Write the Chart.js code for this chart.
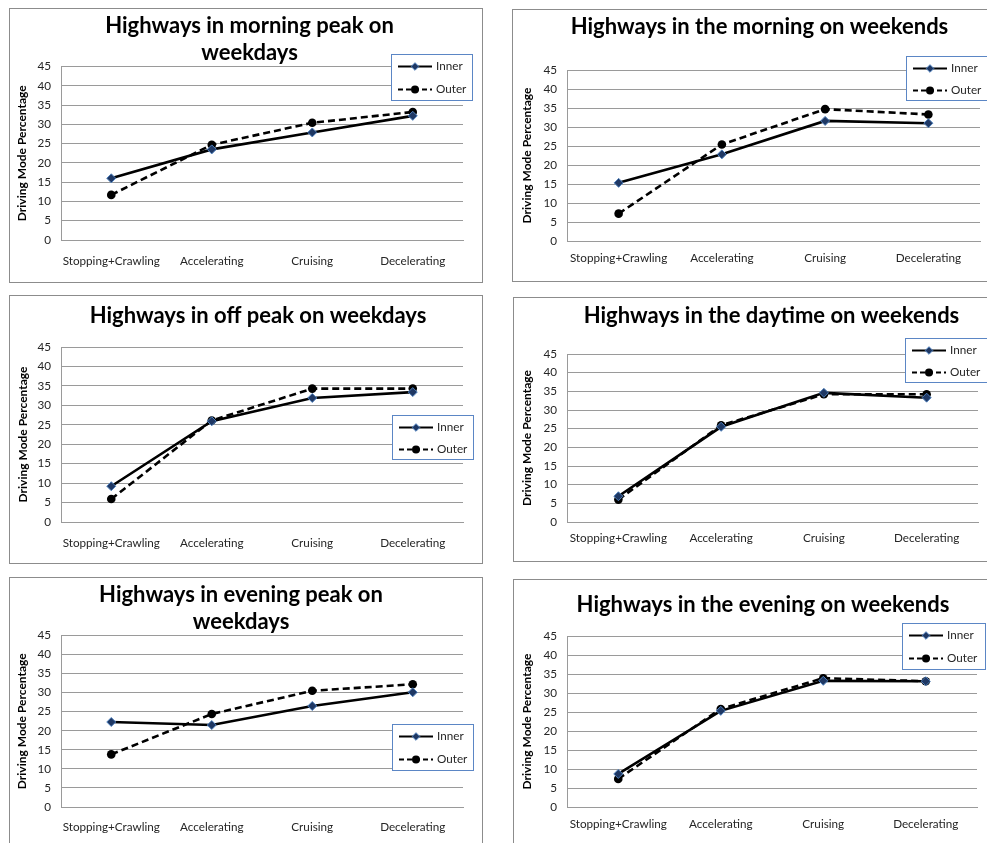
<!DOCTYPE html>
<html>
<head>
<meta charset="utf-8">
<script src="https://cdn.jsdelivr.net/npm/chart.js@4.4.1/dist/chart.umd.min.js"></script>
<style>
  html, body { margin: 0; padding: 0; background: #fff; }
  body { width: 987px; height: 843px; overflow: hidden; position: relative; }
  .frame { position: absolute; border: 1px solid #8c8c8c; box-sizing: border-box; background: #fff; }
  .holder { position: absolute; }
  canvas { display: block; }
</style>
</head>
<body>
<script>
// ---------- data ----------
const categories = ['Stopping+Crawling', 'Accelerating', 'Cruising', 'Decelerating'];
const seriesNames = ['Inner', 'Outer'];
const yTickLabels = ['0', '5', '10', '15', '20', '25', '30', '35', '40', '45'];
const yAxisTitle = 'Driving Mode Percentage';

const titleMorningPeakWeekdays = ['Highways in morning peak on', 'weekdays'];
const titleMorningWeekends = ['Highways in the morning on weekends'];
const titleOffPeakWeekdays = ['Highways in off peak on weekdays'];
const titleDaytimeWeekends = ['Highways in the daytime on weekends'];
const titleEveningPeakWeekdays = ['Highways in evening peak on', 'weekdays'];
const titleEveningWeekends = ['Highways in the evening on weekends'];

const morningPeakWeekdaysInner = [16.0, 23.5, 27.9, 32.2];
const morningPeakWeekdaysOuter = [11.7, 24.7, 30.4, 33.2];
const morningWeekendsInner = [15.3, 22.8, 31.6, 31.0];
const morningWeekendsOuter = [7.2, 25.4, 34.7, 33.3];
const offPeakWeekdaysInner = [9.2, 25.9, 31.9, 33.4];
const offPeakWeekdaysOuter = [5.9, 26.1, 34.3, 34.3];
const daytimeWeekendsInner = [6.9, 25.5, 34.6, 33.3];
const daytimeWeekendsOuter = [6.0, 25.9, 34.2, 34.2];
const eveningPeakWeekdaysInner = [22.3, 21.5, 26.5, 30.1];
const eveningPeakWeekdaysOuter = [13.8, 24.4, 30.5, 32.2];
const eveningWeekendsInner = [8.7, 25.3, 33.2, 33.1];
const eveningWeekendsOuter = [7.4, 25.8, 33.9, 33.1];

// ---------- layout (page pixel coordinates) ----------
const panels = [
  { title: titleMorningPeakWeekdays, inner: morningPeakWeekdaysInner, outer: morningPeakWeekdaysOuter,
    frame: {x: 9, y: 8, w: 474, h: 275}, canvas: {x: 10, y: 9, w: 479, h: 272},
    titleCenter: 26, plot: {l: 61, r: 463, t: 66, b: 240}, yTitleX: 22, xLabelY: 261,
    legend: {x: 391, y: 54, w: 82, h: 47} },
  { title: titleMorningWeekends, inner: morningWeekendsInner, outer: morningWeekendsOuter,
    frame: {x: 512, y: 9, w: 520, h: 273}, canvas: {x: 513, y: 10, w: 493, h: 271},
    titleCenter: 27, plot: {l: 567, r: 980, t: 70, b: 241}, yTitleX: 527, xLabelY: 258,
    legend: {x: 906, y: 56, w: 83, h: 45} },
  { title: titleOffPeakWeekdays, inner: offPeakWeekdaysInner, outer: offPeakWeekdaysOuter,
    frame: {x: 9, y: 295, w: 474, h: 269}, canvas: {x: 10, y: 296, w: 496, h: 267},
    titleCenter: 316, plot: {l: 61, r: 463, t: 347, b: 522}, yTitleX: 23, xLabelY: 543,
    legend: {x: 392, y: 415, w: 82, h: 45} },
  { title: titleDaytimeWeekends, inner: daytimeWeekendsInner, outer: daytimeWeekendsOuter,
    frame: {x: 513, y: 297, w: 520, h: 265}, canvas: {x: 514, y: 298, w: 515, h: 263},
    titleCenter: 316, plot: {l: 567, r: 978, t: 354, b: 522}, yTitleX: 527, xLabelY: 538,
    legend: {x: 905, y: 338, w: 84, h: 45} },
  { title: titleEveningPeakWeekdays, inner: eveningPeakWeekdaysInner, outer: eveningPeakWeekdaysOuter,
    frame: {x: 9, y: 577, w: 474, h: 300}, canvas: {x: 5, y: 578, w: 472, h: 265},
    titleCenter: 595, plot: {l: 61, r: 463, t: 635, b: 807}, yTitleX: 22, xLabelY: 827,
    legend: {x: 392, y: 724, w: 82, h: 47} },
  { title: titleEveningWeekends, inner: eveningWeekendsInner, outer: eveningWeekendsOuter,
    frame: {x: 513, y: 579, w: 520, h: 300}, canvas: {x: 513, y: 580, w: 500, h: 263},
    titleCenter: 605, plot: {l: 567, r: 977, t: 636, b: 807}, yTitleX: 527, xLabelY: 824,
    legend: {x: 902, y: 623, w: 84, h: 47} }
];

const FONT = 'Lato';
const TITLE_SIZE = 22;
const TITLE_LH = 27;
const TICK_SIZE = 11.7;
const YTITLE_SIZE = 12;
const GRID = '#9a9a9a';
const TICK_COLOR = '#262626';

function drawDiamond(ctx, x, y, r) {
  ctx.beginPath();
  ctx.moveTo(x - r, y); ctx.lineTo(x, y - r); ctx.lineTo(x + r, y); ctx.lineTo(x, y + r);
  ctx.closePath();
}

const boxLegend = {
  id: 'boxLegend',
  afterDraw(chart, args, o) {
    if (!o || o.w === undefined) return;
    const ctx = chart.ctx;
    ctx.save();
    ctx.fillStyle = '#ffffff';
    ctx.fillRect(o.x, o.y, o.w, o.h);
    ctx.strokeStyle = '#5b86c5';
    ctx.lineWidth = 1;
    ctx.strokeRect(o.x + 0.5, o.y + 0.5, o.w - 1, o.h - 1);
    chart.data.datasets.forEach((ds, i) => {
      const cy = Math.round(o.y + o.h * (i === 0 ? 0.26 : 0.75)) + 0.5;
      ctx.beginPath();
      ctx.setLineDash(ds.borderDash && ds.borderDash.length ? [5, 3] : []);
      ctx.strokeStyle = '#000';
      ctx.lineWidth = 2;
      ctx.moveTo(o.x + 7, cy); ctx.lineTo(o.x + 41, cy);
      ctx.stroke();
      ctx.setLineDash([]);
      const mx = o.x + 24;
      if (ds.pointStyle === 'rectRot') {
        drawDiamond(ctx, mx, cy, 3.8);
        ctx.fillStyle = ds.pointBackgroundColor; ctx.fill();
        ctx.strokeStyle = ds.pointBorderColor; ctx.lineWidth = 1; ctx.stroke();
      } else {
        ctx.beginPath(); ctx.arc(mx, cy, 4, 0, Math.PI * 2);
        ctx.fillStyle = '#000'; ctx.fill();
      }
      ctx.fillStyle = TICK_COLOR;
      ctx.font = TICK_SIZE + 'px ' + FONT;
      ctx.textBaseline = 'middle';
      ctx.textAlign = 'left';
      ctx.fillText(ds.label, o.x + 45, cy);
    });
    ctx.restore();
  }
};

panels.forEach((p) => {
  const f = document.createElement('div');
  f.className = 'frame';
  Object.assign(f.style, {left: p.frame.x + 'px', top: p.frame.y + 'px', width: p.frame.w + 'px', height: p.frame.h + 'px'});
  document.body.appendChild(f);
});

panels.forEach((p) => {
  const h = document.createElement('div');
  h.className = 'holder';
  Object.assign(h.style, {left: p.canvas.x + 'px', top: p.canvas.y + 'px', width: p.canvas.w + 'px', height: p.canvas.h + 'px'});
  const c = document.createElement('canvas');
  c.width = p.canvas.w; c.height = p.canvas.h;
  c.style.width = p.canvas.w + 'px'; c.style.height = p.canvas.h + 'px';
  h.appendChild(c);
  document.body.appendChild(h);

  const cx = p.canvas.x, cyTop = p.canvas.y;
  const lines = p.title.length;
  const tPadTop = (p.titleCenter - cyTop) - TITLE_LH / 2;
  const tPadBottom = Math.max(0, (p.plot.t - cyTop) - (tPadTop + lines * TITLE_LH));
  const yWidth = p.plot.l - cx;
  const rWidth = cx + p.canvas.w - p.plot.r;
  const xHeight = cyTop + p.canvas.h - p.plot.b;
  const tickLH = TICK_SIZE * 1.2;
  const xPad = (p.xLabelY - p.plot.b) - tickLH / 2;
  const yTitleLH = YTITLE_SIZE * 1.2;
  const yTitlePad = (p.yTitleX - cx) - yTitleLH / 2;

  new Chart(c, {
    type: 'line',
    data: {
      labels: categories,
      datasets: [
        { label: seriesNames[0], data: p.inner, borderColor: '#000', borderWidth: 2.6,
          pointStyle: 'rectRot', pointRadius: 4.5, pointHoverRadius: 4.5,
          pointBackgroundColor: '#1f3864', pointBorderColor: '#4f81bd', pointBorderWidth: 1,
          tension: 0, fill: false },
        { label: seriesNames[1], data: p.outer, borderColor: '#000', borderWidth: 2.6, borderDash: [7, 4],
          pointStyle: 'circle', pointRadius: 4.3, pointHoverRadius: 4.3,
          pointBackgroundColor: '#000', pointBorderColor: '#000', pointBorderWidth: 0,
          tension: 0, fill: false }
      ]
    },
    options: {
      responsive: false,
      animation: false,
      devicePixelRatio: 1,
      layout: { padding: 0 },
      plugins: {
        legend: { display: false },
        tooltip: { enabled: false },
        title: {
          display: true, text: p.title, color: '#000',
          font: { family: FONT, size: TITLE_SIZE, weight: 'bold', lineHeight: TITLE_LH + 'px' },
          padding: { top: tPadTop, bottom: tPadBottom }
        },
        boxLegend: { x: p.legend.x - cx, y: p.legend.y - cyTop, w: p.legend.w, h: p.legend.h }
      },
      scales: {
        x: {
          type: 'category', position: 'bottom', offset: true,
          grid: { display: false, drawTicks: false },
          border: { display: true, color: GRID, width: 1 },
          ticks: { color: TICK_COLOR, font: { family: FONT, size: TICK_SIZE }, padding: xPad, maxRotation: 0, autoSkip: false },
          afterFit(s) { s.height = xHeight; }
        },
        y: {
          type: 'linear', position: 'left', min: 0, max: 45,
          afterBuildTicks(s) { s.ticks = yTickLabels.map(v => ({ value: Number(v) })); },
          grid: { color: GRID, lineWidth: 1, drawTicks: false },
          border: { display: true, color: GRID, width: 1 },
          ticks: { color: TICK_COLOR, font: { family: FONT, size: TICK_SIZE }, padding: 10,
                   callback: (v, i) => yTickLabels[i] },
          title: { display: true, text: yAxisTitle, color: '#000',
                   font: { family: FONT, size: YTITLE_SIZE, weight: 'bold', lineHeight: 1.2 },
                   padding: { top: yTitlePad, bottom: 0 } },
          afterFit(s) { s.width = yWidth; }
        },
        yr: {
          type: 'linear', position: 'right', display: true,
          grid: { display: false, drawTicks: false }, border: { display: false },
          ticks: { display: false },
          afterFit(s) { s.width = rWidth; }
        }
      }
    },
    plugins: [boxLegend]
  });
});
</script>
</body>
</html>
